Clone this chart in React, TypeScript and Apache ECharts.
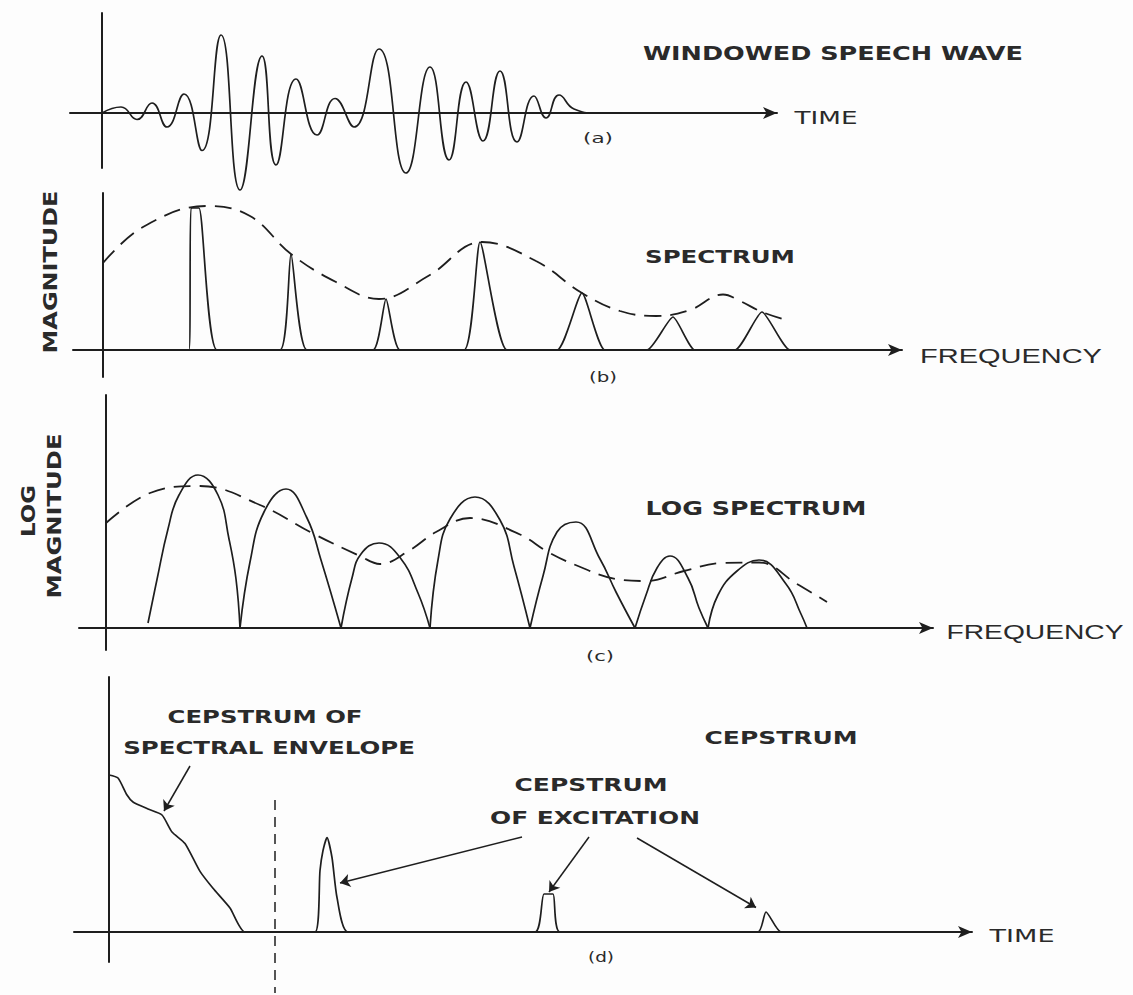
import React, { useEffect, useRef } from "react";
import * as echarts from "echarts";

const INK = "#1e1e1e";

// (a) windowed speech wave: [time, amplitude]
const speechWave: number[][] = [
  [0, 0], [1.9, 0.6], [3.5, -0.65], [5.0, 1.0], [6.5, -1.4], [8.2, 1.9], [10.0, -3.75],
  [11.9, 7.8], [13.8, -7.7], [16.0, 5.7], [17.4, -5.2], [19.4, 3.4], [21.5, -2.2],
  [23.3, 1.45], [25.2, -1.4], [27.7, 6.4], [30.4, -6.0], [32.8, 4.6], [34.7, -4.7],
  [36.4, 3.1], [38.1, -2.8], [39.8, 4.2], [41.5, -2.9], [43.2, 1.7], [44.4, -0.5],
  [45.7, 1.8], [47.2, 0.4], [49.4, 0], [52.0, 0],
];

// (b) spectrum (harmonic lines) and its envelope: [frequency, magnitude]
const spectrumLines: number[][] = [
  [0, 0], [8.6, 0], [8.8, 14.2], [9.6, 14.2], [11.4, 0],
  [17.7, 0], [18.8, 9.6], [20.4, 0],
  [27.0, 0], [28.3, 5.1], [29.7, 0],
  [36.1, 0], [37.7, 10.8], [40.4, 0],
  [45.4, 0], [47.9, 5.7], [50.2, 0],
  [54.4, 0], [57.0, 3.3], [59.2, 0],
  [63.2, 0], [65.9, 3.8], [68.7, 0], [72.0, 0],
];
const spectrumEnvelope: number[][] = [
  [0, 8.7], [4.0, 12.3], [10.4, 14.4], [14.7, 13.4], [18.8, 9.6], [23.3, 6.8],
  [27.6, 5.1], [32.6, 7.45], [37.9, 10.8], [43.3, 8.9], [47.9, 5.7], [51.7, 3.9],
  [55.3, 3.4], [58.7, 4.0], [62.0, 5.55], [63.7, 4.9], [65.9, 3.8], [68.5, 2.95],
];

// (c) log spectrum arches and envelope: [frequency, log magnitude]
const logArch1 = [[4.2, 0.5], [5.1, 4.85], [6.2, 9.9], [7.3, 13.3], [9.2, 15.3], [11.2, 13.3], [12.3, 8.9], [13.0, 4.9], [13.4, 0]];
const logArch2 = [[13.4, 0], [14.4, 6.6], [15.8, 11.6], [18.0, 13.9], [20.1, 11.0], [21.5, 6.8], [23.5, 0]];
const logArch3 = [[23.5, 0], [24.6, 5.0], [25.5, 7.4], [27.3, 8.5], [29.4, 7.05], [31.2, 3.5], [32.4, 0]];
const logArch4 = [[32.4, 0], [33.2, 6.8], [34.4, 10.9], [36.9, 13.1], [39.4, 10.8], [40.8, 6.15], [42.4, 0]];
const logArch5 = [[42.4, 0], [43.7, 5.2], [45.1, 9.6], [47.0, 10.6], [49.4, 6.9], [51.0, 3.6], [52.9, 0]];
const logArch6 = [[52.9, 0], [54.0, 3.3], [55.1, 6.0], [56.4, 7.2], [58.2, 5.0], [59.3, 2.0], [60.2, 0]];
const logArch7 = [[60.2, 0], [61.2, 3.3], [63.1, 5.7], [65.3, 6.8], [68.0, 4.4], [69.5, 1.4], [70.1, 0]];
const logArches = [logArch1, logArch2, logArch3, logArch4, logArch5, logArch6, logArch7];
const logEnvelope: number[][] = [
  [0, 10.5], [4.4, 13.5], [9.4, 14.2], [15.4, 12.3], [20.8, 9.4], [25.4, 7.2], [27.4, 6.4],
  [30.4, 7.8], [33.0, 9.6], [36.4, 11.0], [41.4, 9.35], [44.2, 7.6], [47.2, 6.2], [51.0, 4.9],
  [54.0, 4.7], [57.8, 5.7], [61.6, 6.5], [65.3, 6.55], [69.1, 4.4], [72.1, 2.6],
];

// (d) cepstrum: [quefrency, value]
const cepstrum: number[][] = [
  [0, 15.7], [0.9, 15.4], [1.8, 13.7], [2.4, 13.0], [3.9, 12.3], [5.3, 11.7], [6.3, 10.0],
  [7.6, 8.85], [9.1, 6.06], [10.4, 4.37], [12.1, 2.4], [13.6, 0],
  [20.6, 0], [21.1, 6.15], [21.4, 8.15], [21.8, 9.45], [22.3, 7.45], [22.8, 3.45], [23.9, 0],
  [42.6, 0], [43.5, 3.8], [44.4, 3.8], [45.1, 0],
  [64.9, 0], [65.7, 2.0], [67.2, 0], [70.0, 0],
];
const lifterCutoff: number[][] = [[16.6, 13.2], [16.6, -6.1]];
// pointer arrows: [from, to]
const envelopeArrow = [[8.1, 16.6], [5.5, 12.1]];
const excitationArrows = [
  [[41.3, 9.5], [23.1, 4.9]],
  [[48.0, 9.5], [44.0, 4.0]],
  [[52.8, 9.4], [64.7, 2.45]],
];

// panel frames (pixels) and axis extents
const panels = [
  { left: 70, top: 13, width: 707, height: 155, x: [-3.2, 67.5], y: [-5.5, 10.0] },
  { left: 73, top: 193, width: 829, height: 184, x: [-3.0, 79.9], y: [-2.7, 15.7] },
  { left: 79, top: 395, width: 854, height: 255, x: [-2.7, 82.7], y: [-2.2, 23.3] },
  { left: 74, top: 677, width: 898, height: 285, x: [-3.5, 86.3], y: [-3.0, 25.5] },
];

type Label = { text: string; x: number; y: number; w: number; size: number; bold?: boolean; rot?: boolean; family?: string };
const labels: Label[] = [
  { text: "WINDOWED SPEECH WAVE", x: 833, y: 53, w: 380, size: 19, bold: true },
  { text: "TIME", x: 826, y: 118, w: 63, size: 18 },
  { text: "(a)", x: 598, y: 138, w: 30, size: 14 },
  { text: "MAGNITUDE", x: 50, y: 272, w: 163, size: 19, bold: true, rot: true },
  { text: "SPECTRUM", x: 720, y: 257, w: 150, size: 18, bold: true },
  { text: "FREQUENCY", x: 1011, y: 356, w: 182, size: 20, family: "Liberation Sans" },
  { text: "(b)", x: 603, y: 377, w: 28, size: 14 },
  { text: "LOG", x: 28, y: 511, w: 52, size: 19, bold: true, rot: true },
  { text: "MAGNITUDE", x: 54, y: 516, w: 165, size: 19, bold: true, rot: true },
  { text: "LOG SPECTRUM", x: 756, y: 508, w: 221, size: 19, bold: true },
  { text: "FREQUENCY", x: 1035, y: 632, w: 177, size: 20, family: "Liberation Sans" },
  { text: "(c)", x: 600, y: 656, w: 28, size: 14 },
  { text: "CEPSTRUM OF", x: 265, y: 717, w: 195, size: 18, bold: true },
  { text: "SPECTRAL ENVELOPE", x: 269, y: 748, w: 292, size: 18, bold: true },
  { text: "CEPSTRUM", x: 781, y: 738, w: 153, size: 18, bold: true },
  { text: "CEPSTRUM", x: 591, y: 785, w: 153, size: 18, bold: true },
  { text: "OF EXCITATION", x: 595, y: 818, w: 210, size: 18, bold: true },
  { text: "TIME", x: 1022, y: 936, w: 65, size: 18 },
  { text: "(d)", x: 601, y: 957, w: 26, size: 14 },
];

function measure(text: string, font: string): number {
  const ctx = document.createElement("canvas").getContext("2d");
  if (!ctx) return text.length * 10;
  ctx.font = font;
  return ctx.measureText(text).width;
}

export default function App() {
  const ref = useRef<HTMLDivElement>(null);

  useEffect(() => {
    document.body.style.margin = "0";
    if (!ref.current) return;
    const chart = echarts.init(ref.current, undefined, { renderer: "svg" });

    const grid = panels.map((p) => ({ left: p.left, top: p.top, width: p.width, height: p.height, containLabel: false, outerBoundsMode: "none" }));
    const xAxis = panels.map((p, i) => ({
      type: "value", gridIndex: i, min: p.x[0], max: p.x[1],
      axisLine: { show: true, onZero: true, symbol: ["none", "arrow"], symbolSize: [9, 14], lineStyle: { color: INK, width: 2 } },
      axisTick: { show: false }, axisLabel: { show: false }, splitLine: { show: false },
    }));
    const yAxis = panels.map((p, i) => ({
      type: "value", gridIndex: i, min: p.y[0], max: p.y[1],
      axisLine: { show: true, onZero: true, lineStyle: { color: INK, width: 2 } },
      axisTick: { show: false }, axisLabel: { show: false }, splitLine: { show: false },
    }));

    const solid = (data: number[][], idx: number, smooth: number, extra: any = {}) => ({
      type: "line", data, xAxisIndex: idx, yAxisIndex: idx, smooth, symbol: "none", silent: true,
      lineStyle: { color: INK, width: 1.7 }, ...extra,
    });
    const dashed = (data: number[][], idx: number, smooth: number) => ({
      type: "line", data, xAxisIndex: idx, yAxisIndex: idx, smooth, symbol: "none", silent: true,
      lineStyle: { color: INK, width: 1.8, type: [17, 9] },
    });

    const arrowPairs = [envelopeArrow, ...excitationArrows];

    const series: any[] = [
      solid(speechWave, 0, 0.5, { clip: false }),
      solid(spectrumLines, 1, 0.18),
      dashed(spectrumEnvelope, 1, 0.4),
      ...logArches.map((a) => solid(a, 2, 0.45)),
      dashed(logEnvelope, 2, 0.4),
      solid(cepstrum, 3, 0.2, {
        markLine: {
          silent: true, animation: false, symbol: ["none", "arrow"], symbolSize: 10,
          label: { show: false }, emphasis: { disabled: true },
          lineStyle: { color: INK, width: 1.5, type: "solid" },
          data: arrowPairs.map(([f, t]) => [{ coord: f }, { coord: t }]),
        },
      }),
      {
        type: "line", data: lifterCutoff, xAxisIndex: 3, yAxisIndex: 3, symbol: "none", silent: true, clip: false,
        lineStyle: { color: INK, width: 1.5, type: [10, 7] },
      },
    ];

    const graphic = labels.map((l) => {
      const family = l.family || "DejaVu Sans";
      const weight = l.bold ? "bold" : "normal";
      const w = measure(l.text, `${weight} ${l.size}px "${family}"`);
      const s = w > 0 ? l.w / w : 1;
      return {
        type: "text", x: l.x, y: l.y, rotation: l.rot ? Math.PI / 2 : 0, scaleX: s, silent: true, z: 10,
        style: {
          text: l.text, fontSize: l.size, fontFamily: family, fontWeight: weight, fill: "#2a2a2a",
          align: "center", verticalAlign: "middle", textAlign: "center", textVerticalAlign: "middle",
        },
      };
    });

    chart.setOption({
      animation: false,
      backgroundColor: "#fdfdfd",
      grid, xAxis, yAxis, series, graphic,
    } as any);

    return () => chart.dispose();
  }, []);

  return <div ref={ref} style={{ width: 1133, height: 995 }} />;
}
